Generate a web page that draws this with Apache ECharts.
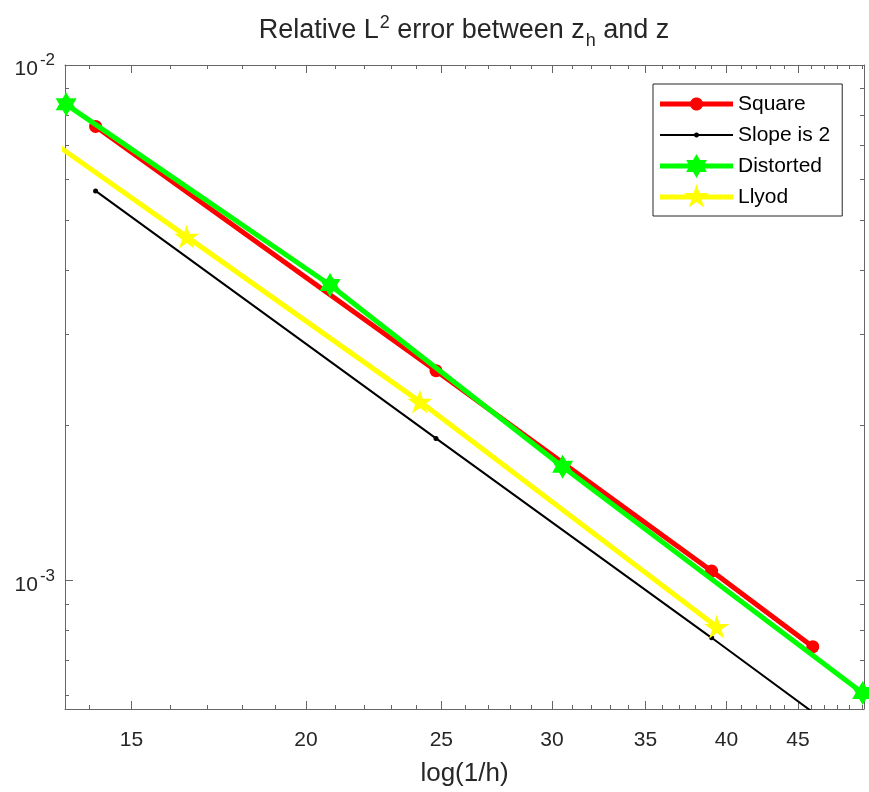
<!DOCTYPE html>
<html>
<head>
<meta charset="utf-8">
<script src="https://cdn.jsdelivr.net/npm/echarts@6/dist/echarts.min.js"></script>
<style>
  html, body { margin: 0; padding: 0; background: #fff; }
  #chart { width: 869px; height: 792px; }
</style>
</head>
<body>
<div id="chart"></div>
<script>
// values (log-log plot)
const squareX = [14.14, 24.78, 39.03, 46.11];
const squareY = [7.60e-3, 2.554e-3, 1.044e-3, 7.45e-4];
const slopeX = [14.14, 24.78, 39.03, 46.11];
const slopeY = [5.70e-3, 1.888e-3, 7.75e-4, 5.56e-4];
const distortedX = [13.47, 20.81, 30.53, 50.06];
const distortedY = [8.39e-3, 3.745e-3, 1.663e-3, 6.06e-4];
const llyodX = [11.0, 16.43, 24.13, 39.36];
const llyodY = [1.0e-2, 4.647e-3, 2.225e-3, 8.14e-4];

const xMajorTicks = [15, 20, 25, 30, 35, 40, 45];
const xMinorTicks = [14, 16, 17, 18, 19, 21, 22, 23, 24, 26, 27, 28, 29, 31, 32, 33, 34,
  36, 37, 38, 39, 41, 42, 43, 44, 46, 47, 48, 49, 50];
const yMajorTicks = [1e-3, 1e-2];
const yMinorTicks = [6e-4, 7e-4, 8e-4, 9e-4, 2e-3, 3e-3, 4e-3, 5e-3, 6e-3, 7e-3, 8e-3, 9e-3];

const xRange = [13.445, 50.17];
const yRange = [5.64e-4, 1e-2];

const axisColor = '#666';
const textColor = '#262626';

function pairs(xs, ys) {
  return xs.map((x, i) => [x, ys[i]]);
}

// star outline, also used with equal radii as a round dot
function starPath(points, outer, inner, cx, cy) {
  let d = '';
  for (let i = 0; i < points * 2; i++) {
    const r = i % 2 ? inner : outer;
    const a = -Math.PI / 2 + i * Math.PI / points;
    d += (i ? 'L' : 'M') + (cx + r * Math.cos(a)).toFixed(2) + ' ' + (cy + r * Math.sin(a)).toFixed(2);
  }
  return d + 'Z';
}

const pentagram = 'path://' + starPath(5, 1, 0.382, 0, 0);
const hexagram = 'path://' + starPath(6, 1, 0.577, 0, 0);

// legend sample: 73px line with the marker at its real size,
// plus a zero-area stroke so every icon spans the full 26px row
function legendIcon(lineW, mark) {
  const h = lineW / 2;
  return 'path://M36.5 -13L36.5 13' +
    'M0 ' + (-h) + 'L73 ' + (-h) + 'L73 ' + h + 'L0 ' + h + 'Z' + mark;
}

const gridBox = { left: 65, right: 5, top: 65, bottom: 83, outerBoundsMode: 'none' };

function xAxisDef(grid, position, ticks, len, withLabels) {
  return {
    type: 'log', gridIndex: grid, position: position,
    min: xRange[0], max: xRange[1],
    axisLine: { show: grid === 0, lineStyle: { color: axisColor, width: 1 } },
    axisTick: { show: true, inside: true, length: len, customValues: ticks,
      lineStyle: { color: axisColor, width: 1 } },
    axisLabel: withLabels ? {
      customValues: xMajorTicks, margin: 21, fontSize: 21, color: textColor,
      formatter: v => String(Math.round(v))
    } : { show: false },
    splitLine: { show: false },
    minorTick: { show: false },
    name: withLabels ? 'log(1/h)' : '',
    nameLocation: 'middle', nameGap: 52,
    nameTextStyle: { fontSize: 26, color: textColor }
  };
}

function yAxisDef(grid, position, ticks, len, withLabels) {
  return {
    type: 'log', gridIndex: grid, position: position,
    min: yRange[0], max: yRange[1],
    axisLine: { show: grid === 0, lineStyle: { color: axisColor, width: 1 } },
    axisTick: { show: true, inside: true, length: len, customValues: ticks,
      lineStyle: { color: axisColor, width: 1 } },
    axisLabel: withLabels ? {
      customValues: yMajorTicks, margin: 10, color: textColor,
      formatter: v => '{b|10}{s|' + Math.round(Math.log10(v)) + '}',
      rich: {
        b: { fontSize: 21, lineHeight: 30, verticalAlign: 'bottom', color: textColor },
        s: { fontSize: 17, lineHeight: 17, verticalAlign: 'top', padding: [2, 0, 0, 2], color: textColor }
      }
    } : { show: false },
    splitLine: { show: false },
    minorTick: { show: false }
  };
}

const chart = echarts.init(document.getElementById('chart'), null, { renderer: 'canvas' });

chart.setOption({
  animation: false,
  backgroundColor: '#fff',
  textStyle: { fontFamily: 'Liberation Sans, Arial, sans-serif' },
  title: {
    text: '{b|Relative L}{p|2}{b| error between z}{q|h}{b| and z}',
    left: 464, top: 17, padding: 0, textAlign: 'center',
    textStyle: {
      fontWeight: 'normal',
      rich: {
        b: { fontSize: 27, lineHeight: 27, fontWeight: 'normal', color: textColor, verticalAlign: 'middle' },
        p: { fontSize: 18, lineHeight: 18, fontWeight: 'normal', color: textColor, verticalAlign: 'middle', padding: [0, 0, 14, 1] },
        q: { fontSize: 18, lineHeight: 18, fontWeight: 'normal', color: textColor, verticalAlign: 'middle', padding: [22, 0, 0, 1] }
      }
    }
  },
  legend: {
    orient: 'vertical',
    left: 653, top: 84,
    padding: [7, 12, 6, 7],
    itemWidth: 73, itemHeight: 26, itemGap: 5,
    backgroundColor: '#fff',
    borderColor: '#262626', borderWidth: 1, borderRadius: 0,
    selectedMode: false,
    textStyle: { fontSize: 21, color: '#000' },
    data: [
      { name: 'Square', icon: legendIcon(5, starPath(24, 6.5, 6.5, 36.5, 0)), itemStyle: { borderWidth: 0 } },
      { name: 'Slope is 2', icon: legendIcon(2, starPath(16, 2.5, 2.5, 36.5, 0)), itemStyle: { borderWidth: 0 } },
      { name: 'Distorted', icon: legendIcon(5, starPath(6, 12, 6.9, 36.5, 0)), itemStyle: { borderWidth: 0 } },
      { name: 'Llyod', icon: legendIcon(5, starPath(5, 13, 5, 36.5, 0)), itemStyle: { borderWidth: 0 } }
    ]
  },
  grid: [gridBox, Object.assign({}, gridBox)],
  xAxis: [
    xAxisDef(0, 'bottom', xMajorTicks, 8, true),
    xAxisDef(0, 'top', xMajorTicks, 8, false),
    xAxisDef(1, 'bottom', xMinorTicks, 4, false),
    xAxisDef(1, 'top', xMinorTicks, 4, false)
  ],
  yAxis: [
    yAxisDef(0, 'left', yMajorTicks, 8, true),
    yAxisDef(0, 'right', yMajorTicks, 8, false),
    yAxisDef(1, 'left', yMinorTicks, 4, false),
    yAxisDef(1, 'right', yMinorTicks, 4, false)
  ],
  series: [
    {
      name: 'Square', type: 'line', z: 2,
      data: pairs(squareX, squareY),
      symbol: 'circle', symbolSize: 13,
      lineStyle: { width: 5, color: '#ff0000' },
      itemStyle: { color: '#ff0000', borderWidth: 0 }
    },
    {
      name: 'Slope is 2', type: 'line', z: 3,
      data: pairs(slopeX, slopeY),
      symbol: 'circle', symbolSize: 5,
      lineStyle: { width: 2, color: '#000' },
      itemStyle: { color: '#000', borderWidth: 0 }
    },
    {
      name: 'Distorted', type: 'line', z: 4,
      data: pairs(distortedX, distortedY),
      symbol: hexagram, symbolSize: [21, 24],
      lineStyle: { width: 5, color: '#00ff00' },
      itemStyle: { color: '#00ff00', borderWidth: 0 }
    },
    {
      name: 'Llyod', type: 'line', z: 5,
      data: pairs(llyodX, llyodY),
      symbol: pentagram, symbolSize: [25, 24],
      lineStyle: { width: 5, color: '#ffff00' },
      itemStyle: { color: '#ffff00', borderWidth: 0 }
    }
  ]
});
</script>
</body>
</html>
